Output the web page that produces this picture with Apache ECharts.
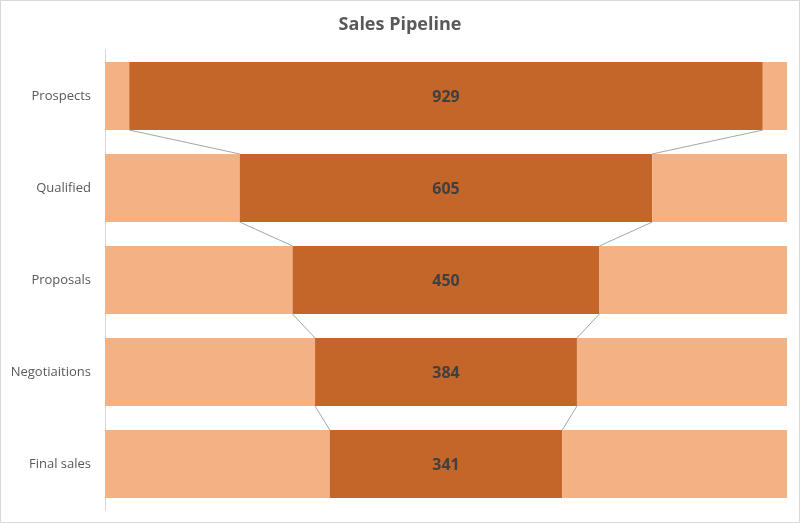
<!DOCTYPE html>
<html>
<head>
<meta charset="utf-8">
<script src="https://cdn.jsdelivr.net/npm/echarts@6/dist/echarts.min.js"></script>
<style>
  html, body { margin: 0; padding: 0; background: #fff; }
  #main { width: 800px; height: 523px; box-sizing: border-box; border: 1px solid #d9d9d9; }
</style>
</head>
<body>
<div id="main"></div>
<script>
// funnel data
const stages = ['Prospects', 'Qualified', 'Proposals', 'Negotiaitions', 'Final sales'];
const values = [929, 605, 450, 384, 341];
const total = 1000;

function pad(v) { return (total - v) / 2; }

let chart = echarts.init(document.getElementById('main'));

const gapRatio = 0.26;

let opt = {
    backgroundColor: '#fff',
    animation: false,
    title: {
        text: 'Sales Pipeline',
        left: 'center',
        top: 10,
        textStyle: { fontFamily: 'Open Sans', fontSize: 18, fontWeight: 'bold', color: '#595959' }
    },
    grid: { left: 104, right: 12, top: 49, bottom: 12 },
    xAxis: {
        type: 'value', min: 0, max: total,
        show: false
    },
    yAxis: {
        type: 'category',
        data: stages,
        inverse: true,
        axisLine: { show: true, lineStyle: { color: '#d9d9d9', width: 1 } },
        axisTick: { show: false },
        axisLabel: { fontFamily: 'Open Sans', fontSize: 13, color: '#595959', margin: 14, padding: [3, 0, 0, 0] }
    },
    series: [
        {
            type: 'bar', stack: 'f',
            barCategoryGap: '26%',
            itemStyle: { color: '#f4b183' },
            data: values.map(pad)
        },
        {
            type: 'bar', stack: 'f',
            itemStyle: { color: '#c4652a' },
            label: {
                show: true, position: 'inside', offset: [0, 1],
                fontFamily: 'Open Sans', fontSize: 16, fontWeight: 'bold', color: '#404040'
            },
            data: values
        },
        {
            type: 'bar', stack: 'f',
            itemStyle: { color: '#f4b183' },
            data: values.map(pad)
        },
        {
            // connector lines between the dark bars
            type: 'custom',
            z: 5,
            encode: { x: 0, y: 1 },
            data: values.slice(0, -1).map((v, i) => [pad(v), i]),
            renderItem: function (params, api) {
                let i = params.dataIndex;
                let band = api.size([0, 1])[1];
                let half = band * (1 - gapRatio) / 2;
                let a = values[i], b = values[i + 1];
                let l1 = api.coord([pad(a), i]), r1 = api.coord([pad(a) + a, i]);
                let l2 = api.coord([pad(b), i + 1]), r2 = api.coord([pad(b) + b, i + 1]);
                let style = { stroke: '#a6a6a6', lineWidth: 1 };
                return {
                    type: 'group',
                    children: [
                        { type: 'line', shape: { x1: l1[0], y1: l1[1] + half, x2: l2[0], y2: l2[1] - half }, style: style },
                        { type: 'line', shape: { x1: r1[0], y1: r1[1] + half, x2: r2[0], y2: r2[1] - half }, style: style }
                    ]
                };
            }
        }
    ]
};

chart.setOption(opt);
</script>
</body>
</html>
